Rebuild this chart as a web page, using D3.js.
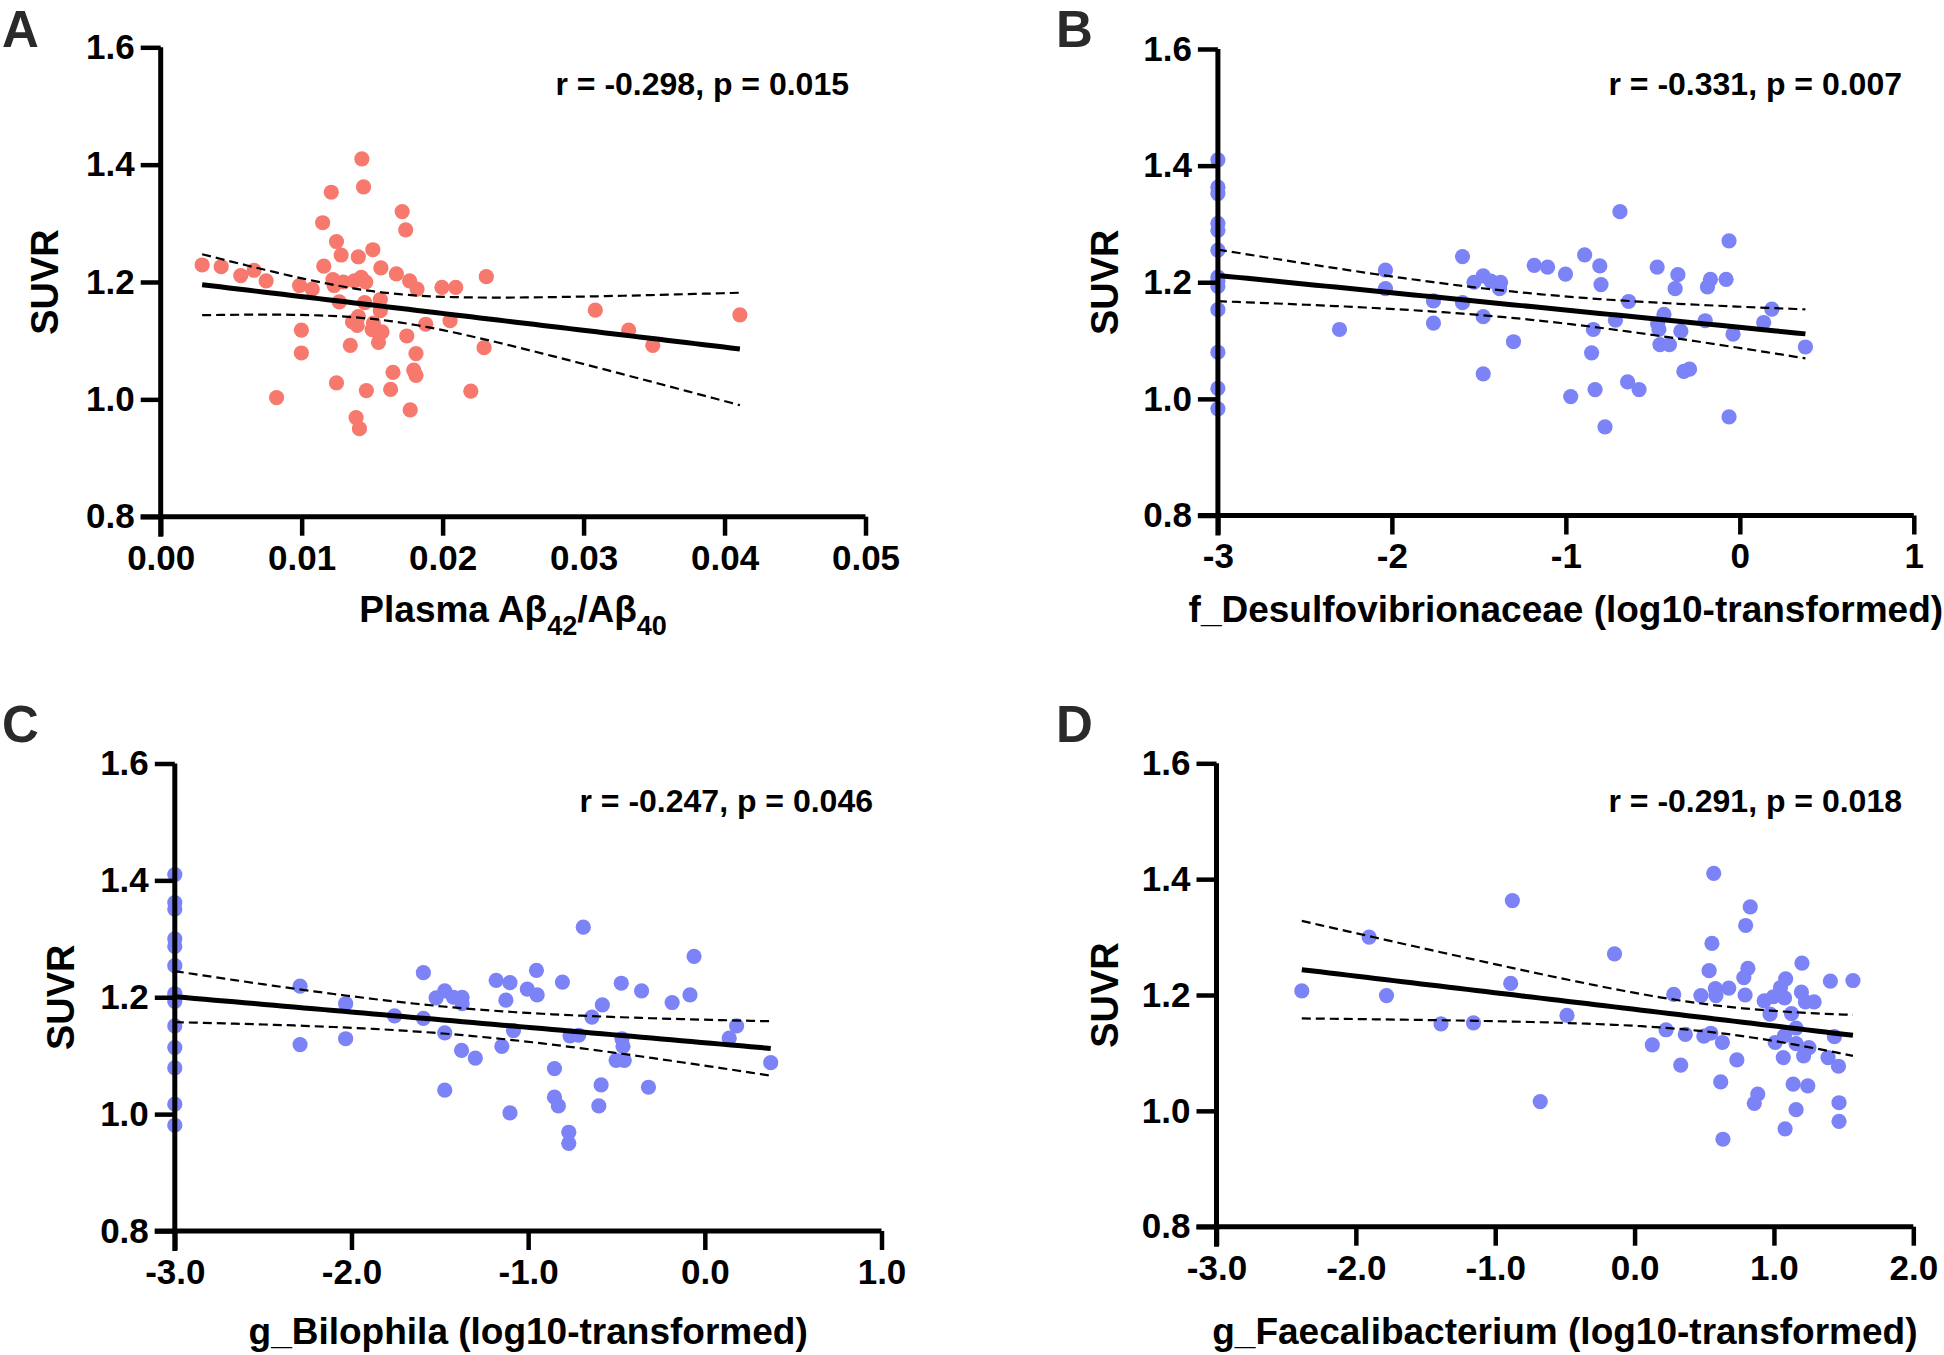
<!DOCTYPE html>
<html><head><meta charset="utf-8">
<script src="https://cdn.jsdelivr.net/npm/d3@7"></script>
<style>
html,body{margin:0;padding:0;background:#fff;}
svg{display:block;}
text{font-family:"Liberation Sans",Arial,Helvetica,sans-serif;font-weight:bold;}
</style></head><body>
<svg id="chart" width="1944" height="1355"></svg>
<script>
// ---------- data ----------
const yTickValues = [0.8, 1.0, 1.2, 1.4, 1.6];
const xTicksA = [0, 0.01, 0.02, 0.03, 0.04, 0.05];
const xTicksB = [-3, -2, -1, 0, 1];
const xTicksC = [-3, -2, -1, 0, 1];
const xTicksD = [-3, -2, -1, 0, 1, 2];

const statsLabels = ["r = -0.298, p = 0.015", "r = -0.331, p = 0.007", "r = -0.247, p = 0.046", "r = -0.291, p = 0.018"];
const xTitles = ["Plasma Aβ42/Aβ40", "f_Desulfovibrionaceae (log10-transformed)", "g_Bilophila (log10-transformed)", "g_Faecalibacterium (log10-transformed)"];
const panelLetters = ["A", "B", "C", "D"];

// Panel A: plasma Aβ42/Aβ40 vs SUVR
const dataA = [[0.00294,1.229],[0.00429,1.226],[0.00568,1.211],[0.00662,1.220],[0.00748,1.202],[0.00822,1.003],[0.00985,1.194],[0.01075,1.188],[0.00998,1.118],[0.00998,1.079],[0.01157,1.227],[0.01149,1.301],[0.0121,1.353],[0.01247,1.269],[0.0128,1.246],[0.01222,1.204],[0.0123,1.194],[0.01296,1.200],[0.01267,1.166],[0.01247,1.028],[0.01345,1.092],[0.01361,1.132],[0.01394,1.126],[0.01402,1.141],[0.01374,1.202],[0.01402,1.243],[0.01427,1.410],[0.01439,1.362],[0.01423,1.208],[0.01455,1.200],[0.01447,1.165],[0.01386,0.969],[0.0141,0.950],[0.01459,1.015],[0.01505,1.255],[0.01562,1.224],[0.01558,1.170],[0.01558,1.151],[0.01509,1.130],[0.015,1.119],[0.0157,1.115],[0.01545,1.097],[0.01631,1.017],[0.01648,1.046],[0.01672,1.214],[0.01713,1.320],[0.01738,1.289],[0.01766,1.202],[0.01819,1.188],[0.01746,1.108],[0.0188,1.128],[0.01795,1.050],[0.01811,1.041],[0.01811,1.078],[0.0177,0.982],[0.01995,1.191],[0.02093,1.191],[0.02053,1.134],[0.0231,1.209],[0.02294,1.088],[0.022,1.014],[0.03083,1.152],[0.0332,1.118],[0.03491,1.092],[0.04109,1.144]];

// Panel B: f_Desulfovibrionaceae (log10) vs SUVR
const dataB = [[-3,1.410],[-3,1.363],[-3,1.352],[-3,1.301],[-3,1.289],[-3,1.255],[-3,1.209],[-3,1.202],[-3,1.193],[-3,1.153],[-3,1.080],[-3,1.018],[-3,0.983],
[-2.301,1.119],[-2.037,1.221],[-2.037,1.189],[-1.761,1.168],[-1.761,1.130],[-1.594,1.244],[-1.594,1.165],[-1.528,1.200],[-1.475,1.211],[-1.431,1.202],[-1.375,1.200],[-1.381,1.189],[-1.475,1.141],[-1.475,1.043],[-1.301,1.098],[-1.182,1.229],[-1.105,1.226],[-1.002,1.214],[-0.972,1.004],[-0.892,1.247],[-0.805,1.228],[-0.798,1.196],[-0.842,1.119],[-0.852,1.079],[-0.832,1.016],[-0.775,0.952],[-0.689,1.321],[-0.639,1.167],[-0.715,1.135],[-0.645,1.029],[-0.579,1.016],[-0.475,1.226],[-0.472,1.129],[-0.465,1.119],[-0.436,1.145],[-0.459,1.093],[-0.405,1.093],[-0.356,1.213],[-0.372,1.189],[-0.339,1.116],[-0.322,1.047],[-0.289,1.051],[-0.199,1.134],[-0.186,1.192],[-0.169,1.205],[-0.079,1.205],[-0.062,1.271],[-0.039,1.111],[-0.062,0.969],[0.137,1.131],[0.184,1.154],[0.377,1.089]];

// Panel C: g_Bilophila (log10) vs SUVR
const dataC = [[-3,1.410],[-3,1.362],[-3,1.351],[-3,1.300],[-3,1.287],[-3,1.254],[-3,1.206],[-3,1.201],[-3,1.193],[-3,1.151],[-3,1.114],[-3,1.079],[-3,1.017],[-3,0.981],
[-2.291,1.219],[-2.291,1.119],[-2.033,1.189],[-2.033,1.129],[-1.756,1.168],[-1.593,1.242],[-1.593,1.164],[-1.521,1.199],[-1.472,1.211],[-1.423,1.200],[-1.374,1.200],[-1.374,1.189],[-1.472,1.139],[-1.472,1.041],[-1.377,1.109],[-1.299,1.096],[-1.181,1.229],[-1.103,1.225],[-1.126,1.195],[-1.149,1.116],[-1.083,1.143],[-1.103,1.002],[-1.005,1.214],[-0.953,1.246],[-0.949,1.204],[-0.806,1.226],[-0.851,1.078],[-0.851,1.029],[-0.829,1.014],[-0.770,0.969],[-0.770,0.950],[-0.763,1.134],[-0.714,1.135],[-0.688,1.320],[-0.639,1.166],[-0.580,1.187],[-0.587,1.050],[-0.600,1.014],[-0.473,1.224],[-0.469,1.129],[-0.463,1.116],[-0.502,1.092],[-0.456,1.092],[-0.358,1.211],[-0.319,1.046],[-0.185,1.191],[-0.084,1.204],[-0.061,1.270],[0.138,1.130],[0.180,1.151],[0.373,1.088]];

// Panel D: g_Faecalibacterium (log10) vs SUVR
const dataD = [[-2.388,1.207],[-1.905,1.300],[-1.780,1.199],[-1.389,1.150],[-1.156,1.152],[-0.877,1.363],[-0.889,1.220],[-0.677,1.016],[-0.485,1.165],[-0.144,1.271],[0.127,1.114],[0.226,1.140],[0.281,1.201],[0.331,1.079],[0.364,1.132],[0.476,1.199],[0.497,1.129],[0.547,1.134],[0.535,1.242],[0.555,1.289],[0.568,1.410],[0.580,1.211],[0.584,1.199],[0.676,1.212],[0.630,1.118],[0.618,1.050],[0.634,0.951],[0.734,1.088],[0.784,1.230],[0.797,1.320],[0.830,1.352],[0.813,1.246],[0.793,1.200],[0.884,1.029],[0.859,1.013],[0.930,1.190],[0.972,1.167],[1.009,1.118],[0.997,1.197],[1.047,1.213],[1.076,1.195],[1.084,1.228],[1.067,1.092],[1.076,1.130],[1.080,0.969],[1.126,1.168],[1.159,1.143],[1.159,1.116],[1.138,1.046],[1.159,1.002],[1.201,1.255],[1.197,1.205],[1.226,1.188],[1.213,1.095],[1.251,1.109],[1.243,1.043],[1.288,1.188],[1.388,1.092],[1.405,1.224],[1.434,1.128],[1.463,1.077],[1.467,1.014],[1.467,0.982],[1.567,1.225]];

// ---------- layout ----------
const RED = "#f7786d", BLUE = "#7b83f6";
const hy = f => (d => f(d).replace("\u2212", "-"));
const panels = [
  {data: dataA, ticks: xTicksA, fmt: hy(d3.format(".2f")), dom: [0, 0.05], color: RED,  xl: 160.7, xr: 865.5, yb: 516.7, yt: 47.3, letter: [2, 47], statX: 849, statY: 95, titleY: 622, suvrX: 58},
  {data: dataB, ticks: xTicksB, fmt: hy(d3.format("d")),   dom: [-3, 1],    color: BLUE, xl: 1217.9, xr: 1913.8, yb: 515.5, yt: 49.0, letter: [1056, 47], statX: 1902, statY: 95, titleY: 622, suvrX: 1118},
  {data: dataC, ticks: xTicksC, fmt: hy(d3.format(".1f")), dom: [-3, 1],    color: BLUE, xl: 174.8, xr: 881.5, yb: 1231, yt: 763.5, letter: [2, 742], statX: 873, statY: 812, titleY: 1344, suvrX: 74},
  {data: dataD, ticks: xTicksD, fmt: hy(d3.format(".1f")), dom: [-3, 2],    color: BLUE, xl: 1216.5, xr: 1913.3, yb: 1226.7, yt: 763.3, letter: [1056, 742], statX: 1902, statY: 812, titleY: 1344, suvrX: 1118}
];

const svg = d3.select("#chart");

function fit(data) {
  const n = data.length;
  const mx = d3.mean(data, d => d[0]), my = d3.mean(data, d => d[1]);
  const sxx = d3.sum(data, d => (d[0] - mx) ** 2);
  const sxy = d3.sum(data, d => (d[0] - mx) * (d[1] - my));
  const b = sxy / sxx, a = my - b * mx;
  const sse = d3.sum(data, d => (d[1] - a - b * d[0]) ** 2);
  const s = Math.sqrt(sse / (n - 2));
  const t = 1.998;
  const [x0, x1] = d3.extent(data, d => d[0]);
  return d3.range(0, 61).map(i => {
    const x = x0 + (x1 - x0) * i / 60;
    const yh = a + b * x;
    const se = s * Math.sqrt(1 / n + (x - mx) ** 2 / sxx);
    return {x, yh, lo: yh - t * se, hi: yh + t * se};
  });
}

panels.forEach((p, i) => {
  const g = svg.append("g");
  const x = d3.scaleLinear().domain(p.dom).range([p.xl, p.xr]);
  const y = d3.scaleLinear().domain([0.8, 1.6]).range([p.yb, p.yt]);

  // points
  g.append("g").selectAll("circle").data(p.data).join("circle")
    .attr("cx", d => x(d[0])).attr("cy", d => y(d[1])).attr("r", 7.6)
    .attr("fill", p.color);

  // regression + CI
  const pts = fit(p.data);
  const ln = key => d3.line().x(d => x(d.x)).y(d => y(d[key]));
  g.append("path").attr("d", ln("hi")(pts)).attr("fill", "none").attr("stroke", "#000").attr("stroke-width", 2.2).attr("stroke-dasharray", "9,5");
  g.append("path").attr("d", ln("lo")(pts)).attr("fill", "none").attr("stroke", "#000").attr("stroke-width", 2.2).attr("stroke-dasharray", "9,5");
  g.append("path").attr("d", ln("yh")(pts)).attr("fill", "none").attr("stroke", "#000").attr("stroke-width", 5);

  // axes
  const ya = g.append("g").attr("transform", `translate(${p.xl},0)`)
    .call(d3.axisLeft(y).tickValues(yTickValues).tickFormat(d3.format(".1f")).tickSize(20).tickSizeOuter(0).tickPadding(6));
  const xa = g.append("g").attr("transform", `translate(0,${p.yb})`)
    .call(d3.axisBottom(x).tickValues(p.ticks).tickFormat(p.fmt).tickSize(19).tickSizeOuter(0).tickPadding(9));
  [ya, xa].forEach(ax => {
    ax.select(".domain").attr("stroke", "#000").attr("stroke-width", 5);
    ax.selectAll(".tick line").attr("stroke", "#000").attr("stroke-width", 4.5);
    ax.selectAll(".tick text").attr("fill", "#000").style("font-size", "35px").style("font-family", '"Liberation Sans",Arial,sans-serif').style("font-weight", "bold");
  });
  ya.select(".domain").attr("d", `M0,${p.yt}V${p.yb + 20}`);
  xa.select(".domain").attr("d", `M${p.xl - 20},0H${p.xr}`);

  // stat label
  g.append("text").attr("x", p.statX).attr("y", p.statY).attr("text-anchor", "end")
    .style("font-size", "32px").text(statsLabels[i]);

  // y title
  g.append("text").attr("transform", `translate(${p.suvrX},${(p.yt + p.yb) / 2}) rotate(-90)`)
    .attr("text-anchor", "middle").style("font-size", "38px").text("SUVR");

  // x title
  const tt = g.append("text").attr("x", (p.xl + p.xr) / 2).attr("y", p.titleY).attr("text-anchor", "middle").style("font-size", "37px");
  if (i === 0) {
    tt.append("tspan").text("Plasma Aβ");
    tt.append("tspan").attr("dy", 13).style("font-size", "27px").text("42");
    tt.append("tspan").attr("dy", -13).text("/Aβ");
    tt.append("tspan").attr("dy", 13).style("font-size", "27px").text("40");
  } else {
    tt.text(xTitles[i]);
  }

  // panel letter
  g.append("text").attr("x", p.letter[0]).attr("y", p.letter[1]).style("font-size", "51px").attr("fill", "#2a2a2a").text(panelLetters[i]);
});
</script>
</body></html>
